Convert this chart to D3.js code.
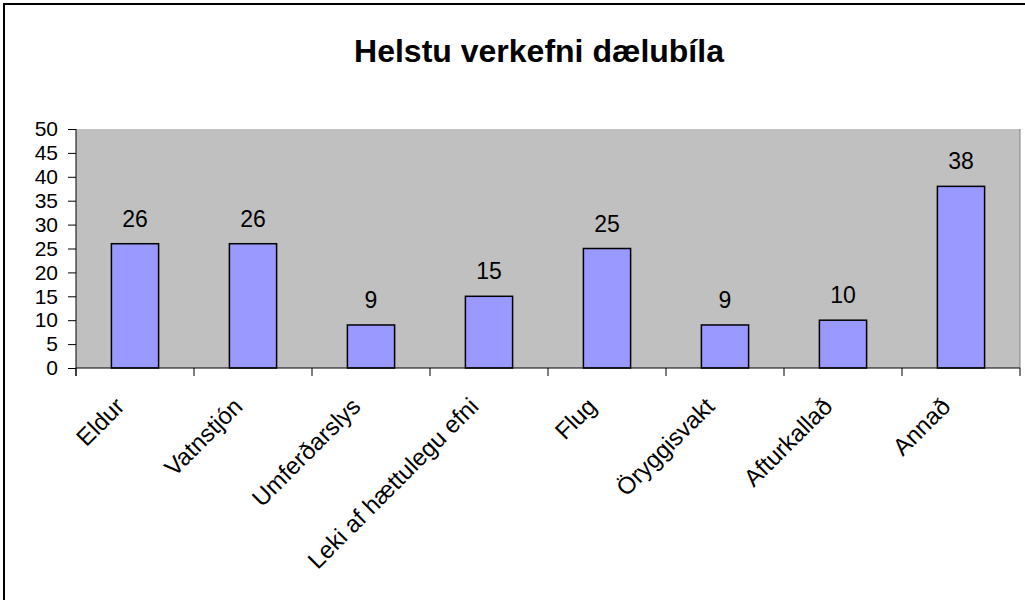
<!DOCTYPE html>
<html>
<head>
<meta charset="utf-8">
<script src="https://cdn.jsdelivr.net/npm/d3@7"></script>
<style>
  body { margin: 0; background: #fff; }
  svg { display: block; font-family: "Liberation Sans", Arial, sans-serif; }
</style>
</head>
<body>
<div id="chart"></div>
<script>
const categories = ["Eldur", "Vatnstjón", "Umferðarslys", "Leki af hættulegu efni",
  "Flug", "Öryggisvakt", "Afturkallað", "Annað"];
const counts = [26, 26, 9, 15, 25, 9, 10, 38];
const yTicks = [0, 5, 10, 15, 20, 25, 30, 35, 40, 45, 50];
const chartTitle = "Helstu verkefni dælubíla";

const w = 1025;
const h = 600;
const plot = { left: 76, right: 1020, top: 129, bottom: 368 };

const svg = d3.select("#chart")
  .append("svg")
  .attr("width", w)
  .attr("height", h);

// chart frame (runs off the right and bottom edge)
svg.append("rect")
  .attr("x", 4)
  .attr("y", 4)
  .attr("width", 1060)
  .attr("height", 640)
  .attr("fill", "#fff")
  .attr("stroke", "#000")
  .attr("stroke-width", 2);

// scales
const xScale = d3.scaleBand()
  .domain(categories)
  .range([plot.left, plot.right])
  .padding(0);

const yScale = d3.scaleLinear()
  .domain([0, 50])
  .range([plot.bottom, plot.top]);

const barW = xScale.bandwidth() / 2.5;

// plot area
svg.append("rect")
  .attr("x", plot.left)
  .attr("y", plot.top)
  .attr("width", plot.right - plot.left)
  .attr("height", plot.bottom - plot.top)
  .attr("fill", "#c0c0c0");

svg.append("line")
  .attr("x1", plot.right)
  .attr("x2", plot.right)
  .attr("y1", plot.top)
  .attr("y2", plot.bottom)
  .attr("stroke", "#808080")
  .attr("stroke-width", 1);

// bars
svg.selectAll(".bar")
  .data(counts)
  .enter()
  .append("rect")
  .attr("class", "bar")
  .attr("x", (d, i) => xScale(categories[i]) + (xScale.bandwidth() - barW) / 2)
  .attr("y", (d) => yScale(d))
  .attr("width", barW)
  .attr("height", (d) => yScale(0) - yScale(d))
  .attr("fill", "#9999ff")
  .attr("stroke", "#000")
  .attr("stroke-width", 1.5);

// value labels
svg.selectAll(".valueLabel")
  .data(counts)
  .enter()
  .append("text")
  .attr("class", "valueLabel")
  .attr("x", (d, i) => xScale(categories[i]) + xScale.bandwidth() / 2)
  .attr("y", (d) => yScale(d) - 17)
  .attr("text-anchor", "middle")
  .attr("font-size", 23)
  .text((d) => d);

// y axis
const yAxis = d3.axisLeft(yScale)
  .tickValues(yTicks)
  .tickSize(8)
  .tickPadding(10);

const gy = svg.append("g")
  .attr("transform", "translate(" + plot.left + ",0)")
  .call(yAxis);
gy.select(".domain").attr("stroke", "#000").attr("d", "M0," + plot.top + "V" + (plot.bottom + 8));
gy.selectAll(".tick line").attr("stroke", "#000");
gy.selectAll(".tick text")
  .attr("font-size", 21)
  .attr("font-family", "Liberation Sans, Arial, sans-serif")
  .attr("fill", "#000");

// x axis: ticks sit on category boundaries
const xAxis = d3.axisBottom(xScale).tickSize(0).tickFormat("");
const gx = svg.append("g")
  .attr("transform", "translate(0," + plot.bottom + ")")
  .call(xAxis);
gx.select(".domain").attr("stroke", "#000").attr("d", "M" + plot.left + ",0H" + plot.right);

gx.selectAll(".boundTick")
  .data(categories.concat([null]))
  .enter()
  .append("line")
  .attr("class", "boundTick")
  .attr("x1", (d, i) => plot.left + i * xScale.step())
  .attr("x2", (d, i) => plot.left + i * xScale.step())
  .attr("y1", 0)
  .attr("y2", 8)
  .attr("stroke", "#000");

// category labels, rotated
svg.selectAll(".catLabel")
  .data(categories)
  .enter()
  .append("text")
  .attr("class", "catLabel")
  .attr("transform", (d) => "translate(" + (xScale(d) + xScale.bandwidth() / 2 - 15) + "," + (plot.bottom + 34) + ") rotate(-45)")
  .attr("text-anchor", "end")
  .attr("dy", "0.35em")
  .attr("font-size", 24)
  .text((d) => d);

// title
svg.append("text")
  .attr("x", 539)
  .attr("y", 62)
  .attr("text-anchor", "middle")
  .attr("font-size", 32)
  .attr("font-weight", "bold")
  .text(chartTitle);
</script>
</body>
</html>
